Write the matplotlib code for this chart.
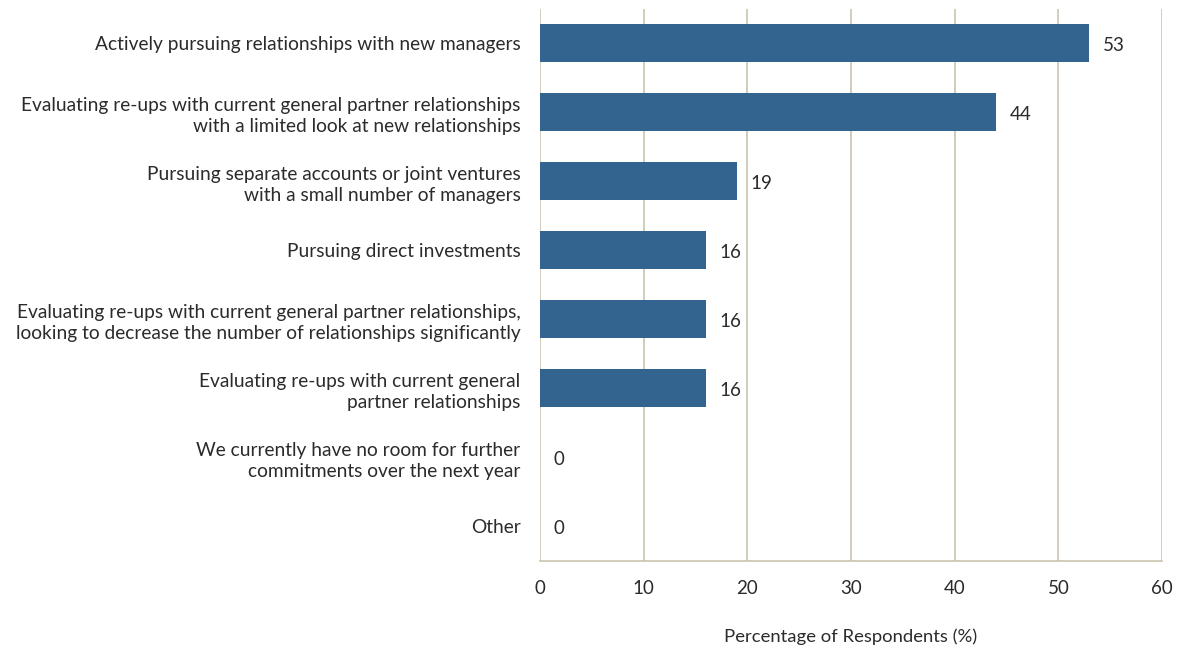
import matplotlib
matplotlib.use("Agg")
import matplotlib.pyplot as plt

categories = [
    "Actively pursuing relationships with new managers",
    "Evaluating re-ups with current general partner relationships\nwith a limited look at new relationships",
    "Pursuing separate accounts or joint ventures\nwith a small number of managers",
    "Pursuing direct investments",
    "Evaluating re-ups with current general partner relationships,\nlooking to decrease the number of relationships significantly",
    "Evaluating re-ups with current general\npartner relationships",
    "We currently have no room for further\ncommitments over the next year",
    "Other",
]
values = [53, 44, 19, 16, 16, 16, 0, 0]
xticks = [0, 10, 20, 30, 40, 50, 60]

bar_color = "#33638f"
grid_color = "#cbc3ae"
text_color = "#2b2b2b"

plt.rcParams["font.family"] = ["Lato", "DejaVu Sans"]

fig = plt.figure(figsize=(11.96, 6.49), dpi=100)
ax = fig.add_axes([540 / 1196, 1 - 561 / 649, 622 / 1196, (561 - 8.5) / 649])

ypos = list(range(len(categories)))
ax.barh(ypos, values, height=0.55, color=bar_color, zorder=3)

for y, v in zip(ypos, values):
    ax.annotate(f"{v}", xy=(v, y), xytext=(10, -1.5), textcoords="offset points",
                ha="left", va="center", fontsize=13.5, color=text_color)

ax.set_xlim(0, 60)
ax.set_ylim(len(categories) - 0.5, -0.5)
ax.set_xticks(xticks)
ax.set_xticklabels([str(t) for t in xticks])
ax.set_yticks(ypos)
ax.set_yticklabels(categories, fontsize=13.8, color=text_color, linespacing=1.3)
for lbl in ax.get_yticklabels():
    lbl.set_ha("right")

ax.tick_params(axis="y", length=0, pad=14)
ax.tick_params(axis="x", length=0, pad=14, labelsize=13.5, labelcolor=text_color)

ax.grid(axis="x", color=grid_color, linewidth=1.2, zorder=0)
ax.grid(axis="y", visible=False)
for side in ["top", "right", "left"]:
    ax.spines[side].set_visible(False)
ax.spines["bottom"].set_color(grid_color)
ax.spines["bottom"].set_linewidth(1.2)

ax.set_xlabel("Percentage of Respondents (%)", fontsize=13.3, color=text_color, labelpad=22)

fig.savefig("out.png", dpi=100, facecolor="white")
